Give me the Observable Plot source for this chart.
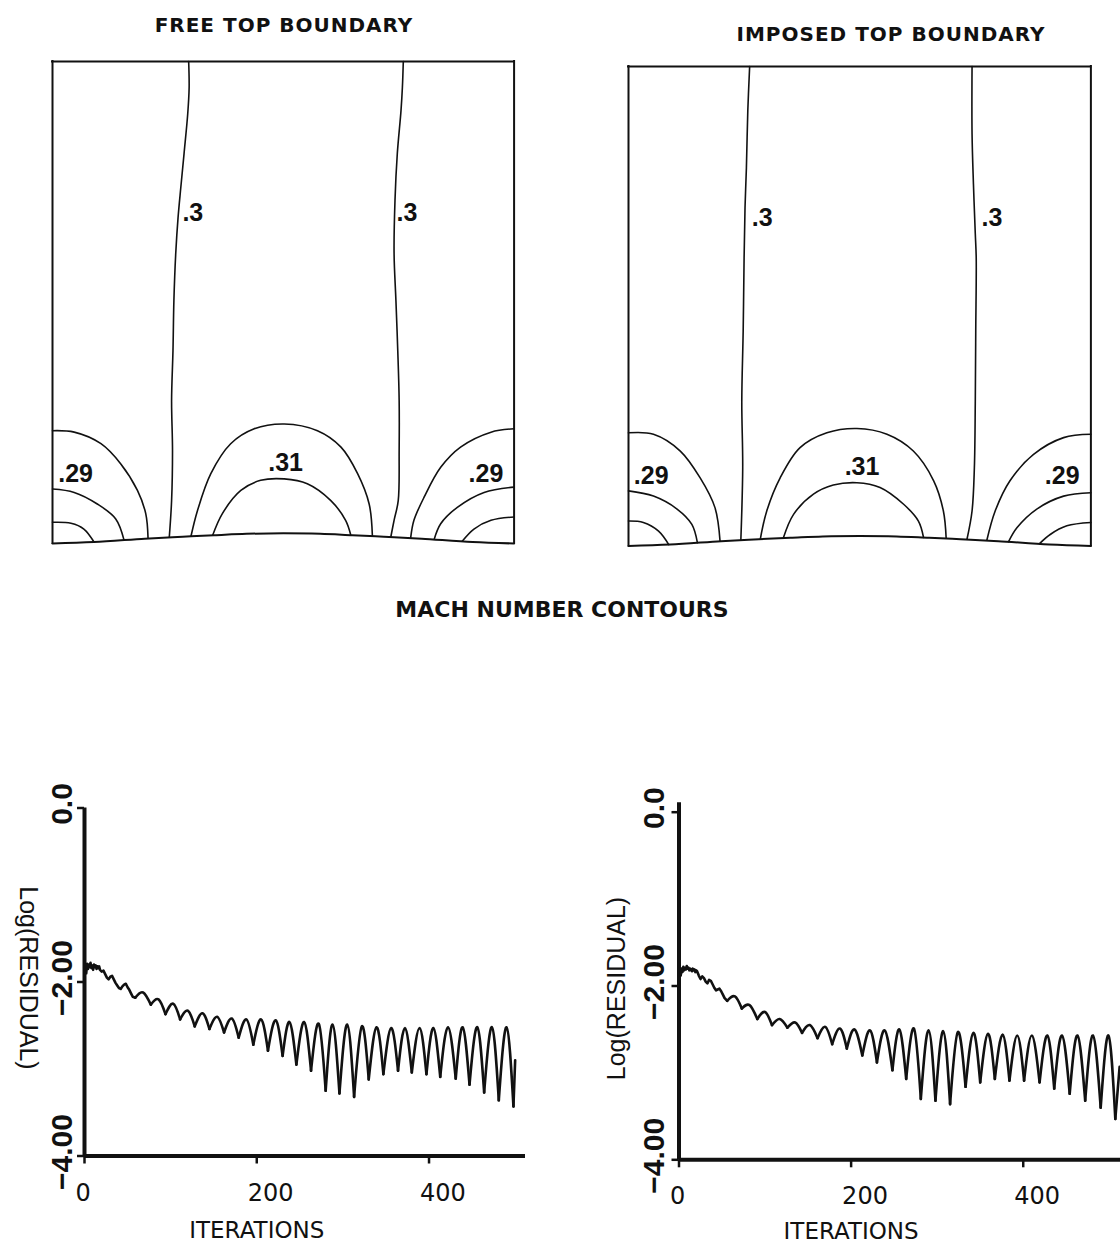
<!DOCTYPE html>
<html>
<head>
<meta charset="utf-8">
<script src="https://cdn.jsdelivr.net/npm/d3@7"></script>
<script src="https://cdn.jsdelivr.net/npm/@observablehq/plot@0.6"></script>
<style>
  html, body { margin: 0; padding: 0; background: #fff; overflow: hidden; }
  #page { position: relative; width: 1120px; height: 1247px; background: #fff; }
  .title { position: absolute; white-space: nowrap; color: #111; transform: translateX(-50%);
           font-family: "DejaVu Sans", sans-serif; font-weight: bold; }
</style>
</head>
<body>
<div id="page"></div>
<script>
// ---------- Mach number contours (channel units: x 0..1 along the channel, y 0..1 up) ----------
// lower wall with the bump
const bumpX = [0, 0.09, 0.2, 0.26, 0.3, 0.35, 0.42, 0.5, 0.58, 0.65, 0.7, 0.74, 0.8, 0.91, 1];
const bumpY = [0, 0.003, 0.010, 0.013, 0.015, 0.017, 0.020, 0.021, 0.020, 0.017, 0.015, 0.013, 0.010, 0.003, 0];

// free top boundary
const free_M30_a = [[0.295,1.000],[0.296,0.946],[0.293,0.892],[0.285,0.809],[0.278,0.739],[0.272,0.676],[0.267,0.602],[0.263,0.504],[0.261,0.400],[0.258,0.297],[0.260,0.193],[0.258,0.089],[0.253,0.013]];
const free_M30_b = [[0.760,1.000],[0.758,0.946],[0.755,0.898],[0.747,0.809],[0.742,0.712],[0.740,0.602],[0.744,0.504],[0.748,0.400],[0.751,0.297],[0.751,0.193],[0.749,0.089],[0.740,0.048],[0.733,0.014]];
const free_M29_a = [[0,0.234],[0.047,0.231],[0.105,0.207],[0.148,0.165],[0.184,0.110],[0.202,0.062],[0.207,0.011]];
const free_M28_a = [[0,0.113],[0.047,0.106],[0.097,0.082],[0.137,0.051],[0.155,0.007]];
const free_M27_a = [[0,0.044],[0.040,0.042],[0.068,0.030],[0.090,0.003]];
const free_M31   = [[0.300,0.015],[0.314,0.068],[0.343,0.145],[0.386,0.207],[0.437,0.238],[0.502,0.248],[0.574,0.234],[0.625,0.200],[0.661,0.145],[0.686,0.082],[0.693,0.016]];
const free_M32   = [[0.347,0.017],[0.368,0.062],[0.408,0.110],[0.451,0.131],[0.502,0.134],[0.552,0.124],[0.603,0.089],[0.635,0.048],[0.646,0.018]];
const free_M29_b = [[1,0.238],[0.950,0.231],[0.884,0.200],[0.841,0.158],[0.805,0.096],[0.783,0.048],[0.776,0.012]];
const free_M28_b = [[1,0.117],[0.935,0.106],[0.877,0.075],[0.841,0.041],[0.827,0.009]];
const free_M27_b = [[1,0.055],[0.950,0.048],[0.913,0.030],[0.888,0.005]];
const freeLabelText = [".3", ".3", ".29", ".31", ".29"];
const freeLabelX = [0.304, 0.768, 0.050, 0.505, 0.939];
const freeLabelY = [0.685, 0.685, 0.145, 0.166, 0.145];

// imposed top boundary
const imp_M30_a = [[0.262,1.000],[0.258,0.907],[0.255,0.789],[0.252,0.706],[0.250,0.601],[0.248,0.448],[0.245,0.302],[0.247,0.163],[0.243,0.013]];
const imp_M30_b = [[0.743,1.000],[0.743,0.859],[0.746,0.755],[0.750,0.651],[0.752,0.601],[0.751,0.450],[0.750,0.302],[0.748,0.163],[0.743,0.073],[0.732,0.014]];
const imp_M29_a = [[0,0.236],[0.054,0.233],[0.112,0.198],[0.155,0.142],[0.187,0.080],[0.198,0.010]];
const imp_M28_a = [[0,0.115],[0.054,0.104],[0.105,0.077],[0.137,0.045],[0.149,0.007]];
const imp_M27_a = [[0,0.052],[0.032,0.049],[0.065,0.031],[0.087,0.003]];
const imp_M31   = [[0.285,0.014],[0.299,0.073],[0.328,0.142],[0.371,0.205],[0.429,0.236],[0.494,0.245],[0.559,0.233],[0.616,0.198],[0.660,0.136],[0.681,0.073],[0.687,0.016]];
const imp_M32   = [[0.335,0.017],[0.357,0.066],[0.400,0.108],[0.443,0.127],[0.494,0.132],[0.544,0.122],[0.595,0.087],[0.627,0.052],[0.638,0.018]];
const imp_M29_b = [[1,0.233],[0.941,0.226],[0.876,0.191],[0.825,0.136],[0.793,0.073],[0.775,0.012]];
const imp_M28_b = [[1,0.111],[0.941,0.104],[0.883,0.077],[0.840,0.038],[0.822,0.009]];
const imp_M27_b = [[1,0.049],[0.948,0.042],[0.912,0.024],[0.889,0.005]];
const impLabelText = [".3", ".3", ".29", ".31", ".29"];
const impLabelX = [0.289, 0.786, 0.049, 0.505, 0.938];
const impLabelY = [0.684, 0.684, 0.146, 0.165, 0.146];

// ---------- convergence histories: Log(RESIDUAL) vs ITERATIONS ----------
const xTicks = [0, 200, 400];
const xTickLabels = ["0", "200", "400"];
const yTicks = [0, -2, -4];
const yTickLabels = ["0.0", "\u22122.00", "\u22124.00"];

// free top boundary
const freeEarlyIter = [2, 3, 4, 5, 6, 7, 8, 9, 10, 11, 12, 13, 14, 15, 16, 17, 18, 20, 22, 24, 26, 28, 30, 32, 34, 36, 38, 40, 42, 44, 46, 48, 50, 52, 54, 56, 59];
const freeEarlyRes  = [-1.90, -1.79, -1.85, -1.80, -1.83, -1.78, -1.84, -1.81, -1.86, -1.80, -1.83, -1.81, -1.85, -1.82, -1.84, -1.82, -1.86, -1.88, -1.87, -1.91, -1.95, -1.97, -1.94, -1.93, -1.97, -2.01, -2.04, -2.07, -2.08, -2.05, -2.03, -2.02, -2.06, -2.09, -2.13, -2.17, -2.18];
const freeTroughIter = [59, 77, 94, 111, 128, 145, 162, 179, 196, 213, 230, 246, 263, 280, 296, 313, 330, 347, 364, 380, 397, 413, 431, 447, 464, 481, 498];
const freeTroughRes  = [-2.18, -2.26, -2.37, -2.43, -2.51, -2.54, -2.58, -2.64, -2.72, -2.79, -2.85, -2.95, -3.02, -3.25, -3.28, -3.32, -3.12, -3.06, -3.02, -3.04, -3.06, -3.09, -3.11, -3.18, -3.27, -3.36, -3.43];
const freePeakIter = [68, 86, 103, 120, 137, 154, 171, 188, 205, 222, 238, 255, 272, 288, 305, 322, 339, 356, 372, 389, 405, 422, 439, 456, 473, 490];
const freePeakRes  = [-2.12, -2.20, -2.25, -2.33, -2.36, -2.40, -2.42, -2.43, -2.43, -2.44, -2.46, -2.46, -2.48, -2.49, -2.49, -2.51, -2.52, -2.53, -2.53, -2.53, -2.53, -2.52, -2.52, -2.52, -2.52, -2.52];
const freeLastIter = 500, freeLastRes = -2.90;

// imposed top boundary
const impEarlyIter = [2, 3, 4, 5, 6, 7, 8, 9, 10, 11, 12, 13, 14, 15, 16, 17, 18, 19, 20, 21, 23, 25, 27, 29, 31, 33, 35, 37, 39, 41, 43, 45, 47, 49, 51, 53, 56];
const impEarlyRes  = [-1.88, -1.80, -1.84, -1.78, -1.82, -1.79, -1.81, -1.77, -1.80, -1.79, -1.82, -1.80, -1.81, -1.83, -1.80, -1.82, -1.81, -1.84, -1.82, -1.83, -1.88, -1.92, -1.89, -1.91, -1.95, -1.97, -1.93, -1.94, -1.98, -2.02, -2.05, -2.04, -2.03, -2.06, -2.10, -2.14, -2.17];
const impTroughIter = [56, 73, 91, 108, 126, 143, 161, 178, 195, 213, 230, 248, 264, 281, 298, 315, 333, 350, 367, 384, 401, 419, 436, 454, 472, 490, 507];
const impTroughRes  = [-2.17, -2.26, -2.38, -2.45, -2.48, -2.54, -2.60, -2.67, -2.72, -2.80, -2.88, -2.97, -3.07, -3.30, -3.32, -3.36, -3.16, -3.11, -3.07, -3.09, -3.09, -3.11, -3.18, -3.24, -3.32, -3.40, -3.53];
const impPeakIter = [65, 82, 100, 117, 135, 152, 170, 187, 204, 222, 239, 256, 273, 290, 307, 324, 342, 359, 376, 393, 410, 428, 445, 463, 481, 499];
const impPeakRes  = [-2.12, -2.22, -2.30, -2.38, -2.42, -2.45, -2.47, -2.49, -2.50, -2.51, -2.51, -2.50, -2.49, -2.51, -2.52, -2.53, -2.54, -2.55, -2.56, -2.57, -2.57, -2.57, -2.57, -2.57, -2.57, -2.57];
const impLastIter = 512, impLastRes = -2.93;

// ---------- drawing ----------
const INK = "#111";
const page = document.getElementById("page");

function place(node, left, top) {
  node.style.position = "absolute";
  node.style.left = left + "px";
  node.style.top = top + "px";
  page.appendChild(node);
}

function heading(text, cx, top, size, spacing) {
  const div = document.createElement("div");
  div.className = "title";
  div.textContent = text;
  div.style.fontSize = size + "px";
  div.style.lineHeight = size + "px";
  div.style.letterSpacing = spacing + "px";
  div.style.left = cx + "px";
  div.style.top = top + "px";
  page.appendChild(div);
}

// stretch or squeeze rotated labels along their run
function squeeze(svg, label, sx) {
  svg.querySelectorAll(`g[aria-label="${label}"] text`).forEach(t => {
    t.setAttribute("transform", (t.getAttribute("transform") || "") + ` scale(${sx},1)`);
  });
}

function contourPanel(lines, labelText, labelX, labelY, frame) {
  const m = 12;
  const wall = bumpX.map((x, i) => ({x, y: bumpY[i]}));
  const labels = labelText.map((text, i) => ({text, x: labelX[i], y: labelY[i]}));
  const svg = Plot.plot({
    width: frame.right - frame.left + 2 * m,
    height: frame.bottom - frame.top + 2 * m,
    margin: m,
    x: {domain: [0, 1], axis: null},
    y: {domain: [0, 1], axis: null},
    style: {overflow: "visible", background: "none"},
    marks: [
      Plot.ruleX([0, 1], {y1: 0, y2: 1, stroke: INK, strokeWidth: 2, strokeLinecap: "square"}),
      Plot.ruleY([1], {x1: 0, x2: 1, stroke: INK, strokeWidth: 2, strokeLinecap: "square"}),
      Plot.line(wall, {x: "x", y: "y", curve: "catmull-rom", stroke: INK, strokeWidth: 2}),
      ...lines.map(pts => Plot.line(pts, {x: d => d[0], y: d => d[1], curve: "catmull-rom", stroke: INK, strokeWidth: 1.6})),
      Plot.text(labels, {x: "x", y: "y", text: "text", fill: INK, fontSize: 25, fontWeight: "bold",
        fontFamily: "Liberation Sans, Arial, sans-serif", textAnchor: "middle", lineAnchor: "middle"})
    ]
  });
  place(svg, frame.left - m, frame.top - m);
}

function residualPanel(cfg, s) {
  const early = s.earlyIter.map((iter, i) => ({iter, res: s.earlyRes[i]}));
  const arches = [];
  s.peakIter.forEach((p, i) => {
    arches.push({arch: i, iter: s.troughIter[i], res: s.troughRes[i]});
    arches.push({arch: i, iter: p, res: s.peakRes[i]});
    arches.push({arch: i, iter: s.troughIter[i + 1], res: s.troughRes[i + 1]});
  });
  const n = s.troughIter.length - 1;
  const tail = [{iter: s.troughIter[n], res: s.troughRes[n]}, {iter: s.lastIter, res: s.lastRes}];
  const lineStyle = {x: "iter", y: "res", stroke: INK, strokeWidth: 2.6, strokeLinejoin: "round"};

  const svg = Plot.plot({
    width: cfg.width,
    height: cfg.height,
    marginLeft: cfg.x0 - cfg.left,
    marginRight: cfg.left + cfg.width - cfg.x1,
    marginTop: cfg.yTop - cfg.top,
    marginBottom: cfg.top + cfg.height - cfg.yBot,
    x: {domain: [0, cfg.xMax], axis: null},
    y: {domain: [-4, 0], axis: null},
    style: {overflow: "visible", background: "none"},
    marks: [
      Plot.ruleY([-4], {x1: 0, x2: cfg.xMax, stroke: INK, strokeWidth: 4}),
      Plot.ruleX([0], {y1: -4, y2: cfg.axisTop, stroke: INK, strokeWidth: 4}),
      Plot.axisX({ticks: xTicks, tickSize: 8, stroke: INK, strokeWidth: 2.5, fill: "none", label: null}),
      Plot.axisY({ticks: yTicks, tickSize: 7, stroke: INK, strokeWidth: 2.5, fill: "none", label: null}),
      Plot.text(xTicks, {x: d => d, text: (d, i) => xTickLabels[i], frameAnchor: "bottom",
        dx: -9, dy: cfg.xTickDy, textAnchor: "start", lineAnchor: "middle",
        fill: INK, fontSize: 24, fontFamily: "DejaVu Sans, sans-serif"}),
      Plot.text(yTicks, {y: d => d, text: (d, i) => yTickLabels[i], frameAnchor: "left",
        dx: cfg.yTickDx, dy: -4, rotate: -90, textAnchor: "middle", lineAnchor: "middle",
        fill: INK, fontSize: 30, fontWeight: "bold", fontFamily: "Liberation Sans, Arial, sans-serif",
        ariaLabel: "y tick label"}),
      Plot.text(["ITERATIONS"], {x: 200, frameAnchor: "bottom", dy: cfg.xLabelDy, lineAnchor: "middle",
        fill: INK, fontSize: 23, fontFamily: "DejaVu Sans, sans-serif"}),
      Plot.text(["Log(RESIDUAL)"], {frameAnchor: "left", dx: cfg.yLabelDx, dy: cfg.yLabelDy,
        rotate: cfg.yLabelRotate, textAnchor: "middle", lineAnchor: "middle",
        fill: INK, fontSize: 25, fontFamily: "Liberation Sans, Arial, sans-serif", ariaLabel: "y label"}),
      Plot.line(early, lineStyle),
      Plot.line(arches, {...lineStyle, z: "arch", curve: "natural"}),
      Plot.line(tail, lineStyle)
    ]
  });
  squeeze(svg, "y tick label", 0.62);
  squeeze(svg, "y label", 1.17);
  place(svg, cfg.left, cfg.top);
}

// headings
heading("FREE TOP BOUNDARY", 284, 14.6, 20, 1);
heading("IMPOSED TOP BOUNDARY", 891, 23.7, 20, 1);
heading("MACH NUMBER CONTOURS", 562, 599.4, 22, 0);

contourPanel(
  [free_M30_a, free_M30_b, free_M29_a, free_M28_a, free_M27_a, free_M31, free_M32, free_M29_b, free_M28_b, free_M27_b],
  freeLabelText, freeLabelX, freeLabelY,
  {left: 51.7, right: 513.3, top: 61, bottom: 543}
);
contourPanel(
  [imp_M30_a, imp_M30_b, imp_M29_a, imp_M28_a, imp_M27_a, imp_M31, imp_M32, imp_M29_b, imp_M28_b, imp_M27_b],
  impLabelText, impLabelX, impLabelY,
  {left: 628.3, right: 1090.7, top: 65.5, bottom: 545}
);

residualPanel(
  {left: 0, top: 760, width: 560, height: 487, x0: 84, x1: 525, yTop: 807.5, yBot: 1155.5,
   xMax: 512, axisTop: 0, xTickDy: 37.8, xLabelDy: 74.5, yTickDx: -22.5,
   yLabelDx: -57, yLabelDy: -4, yLabelRotate: 90},
  {earlyIter: freeEarlyIter, earlyRes: freeEarlyRes, troughIter: freeTroughIter, troughRes: freeTroughRes,
   peakIter: freePeakIter, peakRes: freePeakRes, lastIter: freeLastIter, lastRes: freeLastRes}
);
residualPanel(
  {left: 560, top: 760, width: 570, height: 487, x0: 678.5, x1: 1126, yTop: 811.7, yBot: 1159.3,
   xMax: 520, axisTop: 0.11, xTickDy: 37, xLabelDy: 71.7, yTickDx: -25,
   yLabelDx: -62.5, yLabelDy: 2.5, yLabelRotate: -90},
  {earlyIter: impEarlyIter, earlyRes: impEarlyRes, troughIter: impTroughIter, troughRes: impTroughRes,
   peakIter: impPeakIter, peakRes: impPeakRes, lastIter: impLastIter, lastRes: impLastRes}
);
</script>
</body>
</html>
